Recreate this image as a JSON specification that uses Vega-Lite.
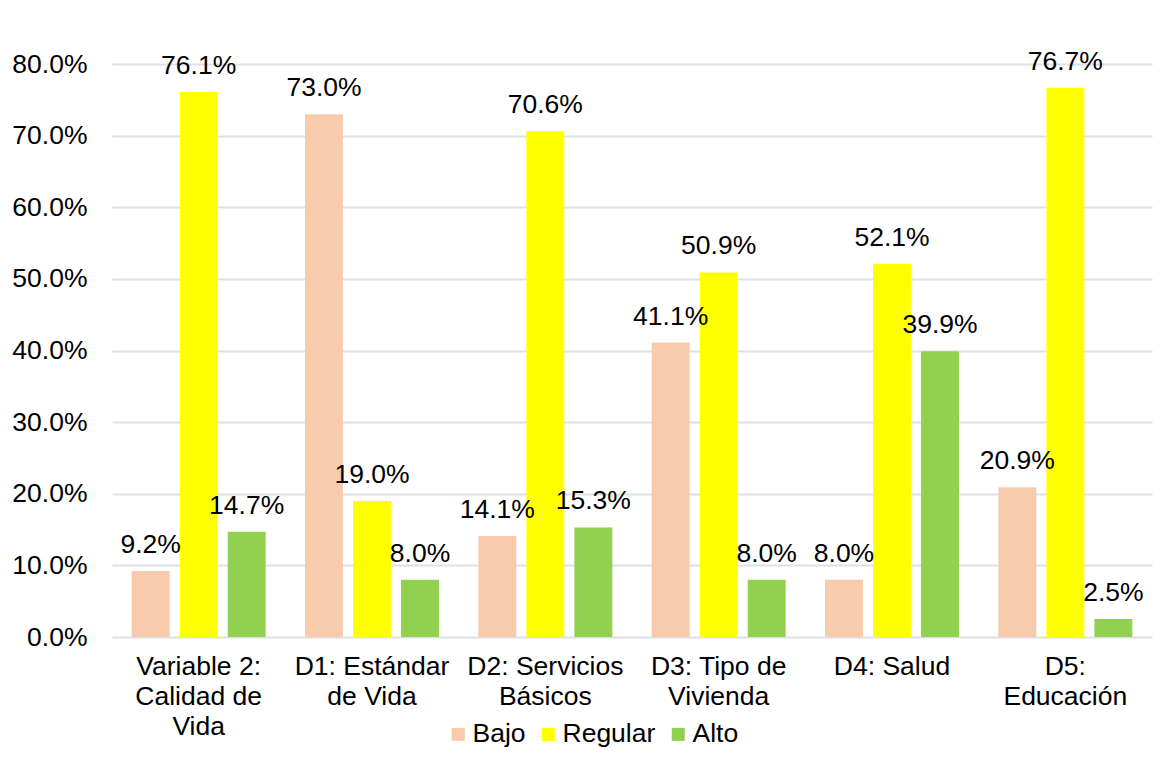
{
  "$schema": "https://vega.github.io/schema/vega-lite/v6.json",
  "width": 1040,
  "height": 573,
  "autosize": {"type": "none"},
  "padding": {"left": 112, "top": 64, "right": 12, "bottom": 126},
  "background": "white",
  "config": {
    "font": "Liberation Sans",
    "view": {"stroke": null}
  },
  "data": {
    "values": [
      {"cat": "Variable 2: Calidad de Vida", "nivel": "Bajo", "valor": 0.092},
      {"cat": "Variable 2: Calidad de Vida", "nivel": "Regular", "valor": 0.761},
      {"cat": "Variable 2: Calidad de Vida", "nivel": "Alto", "valor": 0.147},
      {"cat": "D1: Estándar de Vida", "nivel": "Bajo", "valor": 0.730},
      {"cat": "D1: Estándar de Vida", "nivel": "Regular", "valor": 0.190},
      {"cat": "D1: Estándar de Vida", "nivel": "Alto", "valor": 0.080},
      {"cat": "D2: Servicios Básicos", "nivel": "Bajo", "valor": 0.141},
      {"cat": "D2: Servicios Básicos", "nivel": "Regular", "valor": 0.706},
      {"cat": "D2: Servicios Básicos", "nivel": "Alto", "valor": 0.153},
      {"cat": "D3: Tipo de Vivienda", "nivel": "Bajo", "valor": 0.411},
      {"cat": "D3: Tipo de Vivienda", "nivel": "Regular", "valor": 0.509},
      {"cat": "D3: Tipo de Vivienda", "nivel": "Alto", "valor": 0.080},
      {"cat": "D4: Salud", "nivel": "Bajo", "valor": 0.080},
      {"cat": "D4: Salud", "nivel": "Regular", "valor": 0.521},
      {"cat": "D4: Salud", "nivel": "Alto", "valor": 0.399},
      {"cat": "D5: Educación", "nivel": "Bajo", "valor": 0.209},
      {"cat": "D5: Educación", "nivel": "Regular", "valor": 0.767},
      {"cat": "D5: Educación", "nivel": "Alto", "valor": 0.025}
    ]
  },
  "encoding": {
    "x": {
      "field": "cat",
      "type": "nominal",
      "sort": null,
      "scale": {"paddingInner": 0, "paddingOuter": 0},
      "axis": {
        "title": null,
        "labelAngle": 0,
        "labelFontSize": 26.5,
        "labelColor": "#000000",
        "labelPadding": 16,
        "labelLineHeight": 30,
        "labelBaseline": "top",
        "labelOverlap": false,
        "domain": false,
        "ticks": false,
        "labelExpr": "datum.value == 'Variable 2: Calidad de Vida' ? ['Variable 2:', 'Calidad de', 'Vida'] : datum.value == 'D1: Estándar de Vida' ? ['D1: Estándar', 'de Vida'] : datum.value == 'D2: Servicios Básicos' ? ['D2: Servicios', 'Básicos'] : datum.value == 'D3: Tipo de Vivienda' ? ['D3: Tipo de', 'Vivienda'] : datum.value == 'D5: Educación' ? ['D5:', 'Educación'] : datum.value"
      }
    },
    "xOffset": {
      "field": "nivel",
      "type": "nominal",
      "sort": ["Bajo", "Regular", "Alto"],
      "scale": {"paddingInner": 0.21, "paddingOuter": 0.41}
    },
    "y": {
      "field": "valor",
      "type": "quantitative",
      "scale": {"domain": [0, 0.8], "nice": false},
      "axis": {
        "title": null,
        "format": ".1%",
        "values": [0, 0.1, 0.2, 0.3, 0.4, 0.5, 0.6, 0.7, 0.8],
        "labelOverlap": false,
        "labelFontSize": 26.5,
        "labelColor": "#000000",
        "labelPadding": 25,
        "domain": false,
        "ticks": false,
        "gridColor": "#DDE1E6",
        "gridWidth": 2
      }
    }
  },
  "layer": [
    {
      "mark": {"type": "bar"},
      "encoding": {
        "color": {
          "field": "nivel",
          "type": "nominal",
          "scale": {"domain": ["Bajo", "Regular", "Alto"], "range": ["#F8CBAD", "#FFFF00", "#92D050"]},
          "legend": {
            "title": null,
            "orient": "none",
            "direction": "horizontal",
            "legendX": 333,
            "legendY": 657,
            "padding": 0,
            "labelFontSize": 26.5,
            "labelColor": "#000000",
            "symbolType": "square",
            "symbolSize": 169,
            "symbolStrokeWidth": 0,
            "labelOffset": 1,
            "columnPadding": 9
          }
        }
      }
    },
    {
      "mark": {"type": "text", "baseline": "alphabetic", "dy": -18, "fontSize": 26.5, "color": "#000000"},
      "encoding": {
        "text": {"field": "valor", "type": "quantitative", "format": ".1%"}
      }
    }
  ]
}
